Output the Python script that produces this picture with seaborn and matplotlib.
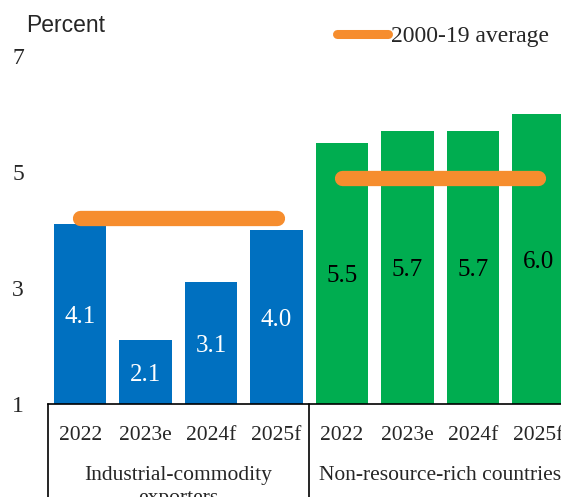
import matplotlib
matplotlib.use("Agg")
import matplotlib.pyplot as plt
import matplotlib.transforms as mtransforms
from matplotlib.lines import Line2D
import seaborn as sns
import pandas as pd

# Growth by group, percent
groups = ["Industrial-commodity\nexporters", "Non-resource-rich countries"]
years = ["2022", "2023e", "2024f", "2025f"]
industrial_values = [4.1, 2.1, 3.1, 4.0]
nonresource_values = [5.5, 5.7, 5.7, 6.0]
average_2000_19 = [4.2, 4.9]
y_ticks = [1, 3, 5, 7]

group_colors = {groups[0]: "#0070C0", groups[1]: "#00AD50"}
label_colors = {groups[0]: "white", groups[1]: "black"}
avg_color = "#F68D2E"

rows = []
for g, vals in zip(groups, [industrial_values, nonresource_values]):
    for yr, v in zip(years, vals):
        rows.append({"group": g, "year": yr, "slot": f"{g}|{yr}", "value": v})
df = pd.DataFrame(rows)

sns.set_style("white")
plt.rcParams["font.family"] = ["Liberation Serif", "DejaVu Serif"]

fig = plt.figure(figsize=(5.61, 4.97), dpi=100)
ax = fig.add_axes([47.5 / 561, 93 / 497, 523.5 / 561, 348 / 497])

sns.barplot(data=df, x="slot", y="value", hue="group", palette=group_colors,
            saturation=1, dodge=False, width=0.8, linewidth=0, legend=False,
            ax=ax)

ax.set_ylim(1, 7)
ax.set_xlim(-0.5, 7.5)

# Bars start from the axis floor at 1
for patch in ax.patches:
    h = patch.get_height()
    patch.set_y(1)
    patch.set_height(h - 1)

# Value labels in the middle of each bar
for i, row in df.iterrows():
    ax.text(i, (1 + row["value"]) / 2, f"{row['value']:.1f}",
            ha="center", va="center_baseline", fontsize=18,
            color=label_colors[row["group"]])

# 2000-19 average lines across each group
for k, avg in enumerate(average_2000_19):
    xs = [4 * k, 4 * k + 3]
    ax.plot(xs, [avg, avg], color=avg_color, lw=11, solid_capstyle="round",
            zorder=5)

ax.set_yticks(y_ticks)
ax.set_yticklabels([str(t) for t in y_ticks], fontsize=17)
ax.tick_params(axis="y", length=0, pad=17)
ax.set_xticks(range(len(df)))
ax.set_xticklabels(df["year"], fontsize=15.5)
ax.tick_params(axis="x", length=0, pad=16)
ax.set_xlabel("")
ax.set_ylabel("")

for side in ["left", "top", "right"]:
    ax.spines[side].set_visible(False)
ax.spines["bottom"].set_color("black")
ax.spines["bottom"].set_linewidth(1.2)

# Group separators and group names below the axis
trans = mtransforms.blended_transform_factory(ax.transData, ax.transAxes)
for xb in [-0.5, 3.5, 7.5]:
    ax.plot([xb, xb], [0, -0.3], color="black", lw=1.2, transform=trans,
            clip_on=False)
for k, g in enumerate(groups):
    ax.text(4 * k + 1.5, -0.178, g, transform=trans, ha="center", va="top",
            fontsize=15.5, linespacing=1.3)

fig.text(26 / 561, 1 - 25 / 497, "Percent", ha="left", va="center",
         fontsize=16.5, family=["Liberation Sans", "DejaVu Sans"])

handle = Line2D([0], [0], color=avg_color, lw=6.5, solid_capstyle="round")
fig.legend([handle], ["2000-19 average"], loc="center left",
           bbox_to_anchor=(337 / 561, 1 - 36 / 497), frameon=False,
           fontsize=17, handlelength=2.15, handletextpad=0.15, borderpad=0,
           borderaxespad=0)

fig.savefig("out.png", dpi=100)
